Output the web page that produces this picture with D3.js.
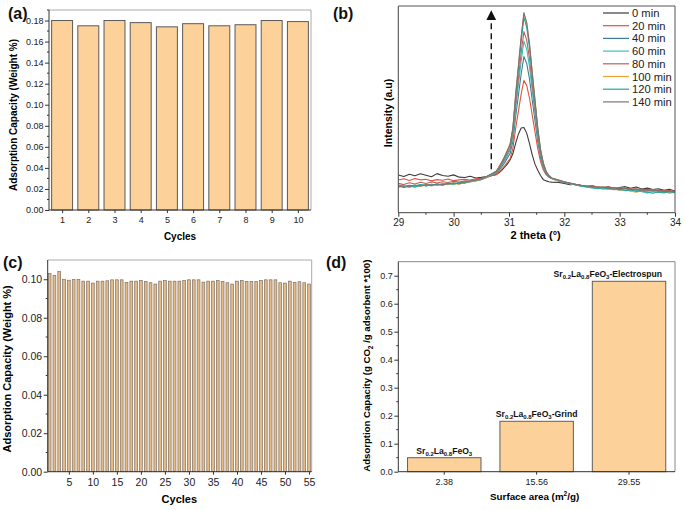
<!DOCTYPE html>
<html><head><meta charset="utf-8">
<script src="https://cdn.jsdelivr.net/npm/d3@7"></script>
<style>
body{margin:0;background:#fff;}
svg{display:block;font-family:"Liberation Sans",Arial,sans-serif;}
</style></head><body>
<svg id="chart" width="685" height="510"></svg>
<script>
// ---------- DATA ----------
// (a)
const cyclesA = [1,2,3,4,5,6,7,8,9,10];
const capacityA = [0.180,0.175,0.180,0.178,0.174,0.177,0.175,0.176,0.180,0.179];
const yTicksA = [0,0.02,0.04,0.06,0.08,0.10,0.12,0.14,0.16,0.18];

// (b)
const thetaB = [29.0,29.1,29.2,29.3,29.4,29.5,29.6,29.7,29.8,29.9,30.0,30.1,30.2,30.3,30.4,30.5,30.6,30.7,
  30.77,30.82,30.87,30.92,30.97,31.02,31.07,31.12,31.17,31.22,31.27,31.32,31.37,31.42,31.47,31.52,31.57,31.62,31.67,31.72,31.77,
  31.9,32.0,32.1,32.2,32.3,32.4,32.5,32.6,32.7,32.8,32.9,33.0,33.1,33.2,33.3,33.4,33.5,33.6,33.7,33.8,33.9,34.0];
const seriesNamesB = ["0 min","20 min","40 min","60 min","80 min","100 min","120 min","140 min"];
const int0 = [18.2,17.5,18.6,17.9,18.8,18.1,17.4,18.9,18.0,17.6,18.3,17.2,17.0,17.6,16.8,17.1,17.5,18.0,
  18.5,19.3,20.5,22,23.5,25.5,28.5,33.5,38,41,41.2,38.5,33.5,28,23.5,20.5,18,16,15.4,15,14.8,
  14.6,14.2,13.5,13.8,13.1,12.6,12.9,12.3,12.0,12.5,11.6,12.2,12.6,11.8,12.4,11.5,11.9,11.2,11.6,10.8,11.3,10.5];
const int20 = [15.8,16.4,15.6,16.5,15.9,16.2,15.4,16.0,15.7,16.3,15.5,15.9,16.2,15.8,16.4,16.6,17.2,18.0,
  18.4,19.6,21.1,22.6,24.4,26.2,31.0,40.6,49.0,57.4,64.0,61.6,55.6,47.2,39.1,31.0,24.7,20.8,18.4,17.2,16.5,
  15.2,14.5,14.0,13.6,13.2,12.9,12.4,12.7,12.1,11.8,12.2,11.5,11.9,11.1,11.6,10.9,11.3,10.6,11.0,10.3,10.7,10.0];
const int40 = [13.0,12.4,13.3,12.8,13.6,13.1,13.8,13.4,14.0,13.6,14.3,14.0,14.7,15.0,15.4,16.0,17.0,18.4,
  19.0,20.4,22.3,24.1,26.4,28.6,34.5,46.3,56.7,67.1,75.5,72.2,64.8,54.5,44.5,34.5,26.7,21.9,19.0,17.5,16.6,
  15.4,14.6,14.1,13.5,13.1,12.6,12.9,12.2,11.9,12.1,11.4,11.7,11.0,11.4,10.7,11.0,10.3,10.8,10.1,10.4,9.8,10.1];
const int60 = [12.6,13.3,12.2,13.0,13.5,12.9,13.7,13.2,13.9,14.1,13.7,14.5,14.2,15.1,15.6,16.1,17.2,18.6,
  19.3,21.0,23.1,25.1,27.6,30.1,36.8,50.0,61.7,73.3,83.0,79.1,70.8,59.2,48.0,36.8,28.0,22.6,19.3,17.7,16.7,
  15.5,14.7,14.0,13.4,12.8,12.4,12.0,11.6,12.0,11.2,11.6,10.8,11.1,10.5,10.9,10.2,9.6,10.2,9.8,10.3,9.5,9.9];
const int80 = [14.2,13.6,14.5,13.9,14.7,14.1,14.9,14.4,15.0,14.6,15.2,14.8,15.4,15.3,15.9,16.3,17.4,18.8,
  19.6,21.3,23.6,25.8,28.5,31.1,38.3,52.5,65.0,77.4,87.6,83.6,74.7,62.3,50.3,38.3,28.9,23.1,19.6,17.8,16.7,
  15.6,14.8,14.3,13.7,13.3,12.8,13.1,12.5,12.2,12.6,11.8,12.1,11.4,11.8,11.1,11.5,10.8,11.2,10.5,10.9,10.2,10.4];
const int100 = [12.2,12.9,12.5,13.2,12.7,13.4,12.9,13.6,13.3,13.9,14.2,13.8,14.6,14.9,15.5,16.2,17.3,18.9,
  20.2,22.3,24.4,27.2,30.1,33.2,40.5,56.5,70.6,84.5,96.3,91.8,81.6,67.6,54.3,40.8,30.6,24.2,20.1,18.0,16.6,
  15.5,14.9,14.2,13.6,13.0,12.5,12.1,12.4,11.7,11.3,11.6,10.9,11.2,10.4,9.9,10.6,10.1,10.5,9.8,10.1,9.6,9.8];
const int120 = [13.4,12.7,13.1,12.3,13.4,13.0,13.5,13.8,13.3,14.2,13.9,14.6,14.4,15.2,15.7,16.3,17.6,19.0,
  19.9,21.8,24.2,26.7,29.6,32.5,40.3,55.8,69.4,82.9,94.5,89.7,80.0,66.4,53.3,40.3,30.1,23.8,19.9,17.9,16.8,
  15.7,14.8,14.1,13.5,12.9,12.6,12.2,11.8,11.5,11.9,11.1,11.4,10.7,11.0,10.3,10.6,9.9,9.4,10.0,9.6,10.1,9.7];
const int140 = [13.0,12.2,12.8,13.4,12.9,13.6,13.2,14.0,13.5,14.1,14.4,14.0,15.0,15.3,15.8,16.4,17.5,19.0,
  20,22,24.5,27,30,33,41,57,71,85,96.8,92,82,68,54.5,41,30.5,24,20,18,16.8,
  15.8,15.0,14.4,13.8,13.3,12.9,12.6,12.2,12.5,11.8,12.1,11.4,11.8,11.1,11.5,10.8,11.2,10.5,10.9,10.2,10.6,10.0];
const xTicksB = [29,30,31,32,33,34];
const arrowB = {x:30.68, from:21, to:97};

// (c)
const cyclesC = [1,2,3,4,5,6,7,8,9,10,11,12,13,14,15,16,17,18,19,20,21,22,23,24,25,26,27,28,29,30,
  31,32,33,34,35,36,37,38,39,40,41,42,43,44,45,46,47,48,49,50,51,52,53,54,55];
const capacityC = [0.103,0.102,0.104,0.0998,0.0995,0.0998,0.0998,0.099,0.099,0.098,
  0.099,0.099,0.0992,0.0997,0.0997,0.0997,0.0983,0.099,0.099,0.0993,
  0.0988,0.0982,0.0975,0.099,0.0993,0.099,0.099,0.099,0.0993,0.0997,
  0.0997,0.0997,0.0985,0.099,0.099,0.0993,0.0988,0.0982,0.0975,0.099,
  0.0993,0.0988,0.0988,0.0988,0.0993,0.0997,0.0997,0.0997,0.0982,0.098,
  0.099,0.0983,0.0987,0.0982,0.0975];
const xTicksC = [5,10,15,20,25,30,35,40,45,50,55];
const yTicksC = [0,0.02,0.04,0.06,0.08,0.10];

// (d)
const surfaceD = ["2.38","15.56","29.55"];
const capacityD = [0.05,0.18,0.68];
const suffixD = ["","-Grind","-Electrospun"];
const yTicksD = [0,0.1,0.2,0.3,0.4,0.5,0.6,0.7];

// ---------- DRAW ----------
const svg = d3.select("#chart");
const FONT = '"Liberation Sans",Arial,sans-serif';

function frame(g, w, h, dark, light){
  g.append("line").attr("x1",0).attr("x2",w).attr("y1",0).attr("y2",0).attr("stroke",light).attr("stroke-width",1);
  g.append("line").attr("x1",w).attr("x2",w).attr("y1",0).attr("y2",h).attr("stroke",light).attr("stroke-width",1);
  g.append("line").attr("x1",0).attr("x2",0).attr("y1",0).attr("y2",h).attr("stroke",dark).attr("stroke-width",1);
  g.append("line").attr("x1",0).attr("x2",w).attr("y1",h).attr("y2",h).attr("stroke",dark).attr("stroke-width",1);
}
function styleAxis(ax, fs){
  ax.select(".domain").remove();
  ax.selectAll("line").attr("stroke","#333");
  ax.selectAll("text").attr("font-size",fs).attr("fill","#222").attr("font-family",FONT);
}
function minorTicks(g, scale, vals, orient, len){
  vals.forEach(v=>{
    if(orient==="left") g.append("line").attr("x1",0).attr("x2",-len).attr("y1",scale(v)).attr("y2",scale(v)).attr("stroke","#333");
    else g.append("line").attr("y1",0).attr("y2",len).attr("x1",scale(v)).attr("x2",scale(v)).attr("stroke","#333");
  });
}
function panelLabel(txt, x, y){
  svg.append("text").attr("x",x).attr("y",y).attr("font-size",16).attr("font-weight","bold").attr("fill","#111").text(txt);
}

// ===== (a) =====
{
  const L=49,T=10,W=262,H=200;
  const g = svg.append("g").attr("transform",`translate(${L},${T})`);
  const x = d3.scaleLinear().domain([0.5,10.5]).range([0,W]);
  const y = d3.scaleLinear().domain([0,0.19]).range([H,0]);
  const bw = (x(1.8)-x(1));
  g.selectAll("rect.bar").data(cyclesA).join("rect")
    .attr("x",d=>x(d)-bw/2).attr("width",bw)
    .attr("y",(d,i)=>y(capacityA[i])).attr("height",(d,i)=>H-y(capacityA[i]))
    .attr("fill","#fdd19a").attr("stroke","#5a5a5a").attr("stroke-width",1);
  frame(g,W,H,"#333","#aaa");
  const ay = g.append("g").call(d3.axisLeft(y).tickValues(yTicksA).tickFormat(d3.format(".2f")).tickSize(4).tickPadding(1.5));
  styleAxis(ay,9);
  minorTicks(g,y,yTicksA.map(v=>v+0.01),"left",2);
  const ax = g.append("g").attr("transform",`translate(0,${H})`).call(d3.axisBottom(x).tickValues(cyclesA).tickSize(3).tickPadding(4));
  styleAxis(ax,9);
  g.append("text").attr("x",W/2).attr("y",H+30).attr("text-anchor","middle").attr("font-size",10).attr("font-weight","bold").text("Cycles");
  g.append("text").attr("transform",`translate(${-32},${H/2+5}) rotate(-90)`).attr("text-anchor","middle")
    .attr("font-size",10).attr("font-weight","bold").text("Adsorption Capacity (Weight %)");
  panelLabel("(a)",8,19);
}

// ===== (b) =====
{
  const L=398.3,T=6,W=276.7,H=206.7;
  const g = svg.append("g").attr("transform",`translate(${L},${T})`);
  const x = d3.scaleLinear().domain([29,34]).range([0,W]);
  const y = d3.scaleLinear().domain([0,100]).range([H,0]);
  const colors = ["#3b3b3b","#e0533d","#3e7c90","#3cc0bb","#c0605a","#e8a23c","#1fa8a6","#85706e"];
  const all = [int0,int20,int40,int60,int80,int100,int120,int140];
  svg.append("defs").append("clipPath").attr("id","clipB").append("rect").attr("width",W).attr("height",H);
  const line = d3.line().x(d=>x(d[0])).y(d=>y(d[1]));
  const pg = g.append("g").attr("clip-path","url(#clipB)");
  all.forEach((s,i)=>{
    pg.append("path").datum(thetaB.map((t,j)=>[t,s[j]]))
      .attr("d",line).attr("fill","none").attr("stroke",colors[i]).attr("stroke-width",1.1)
      .attr("stroke-linejoin","round");
  });
  // arrow
  const defs = svg.select("defs");
  defs.append("marker").attr("id","arrowHead").attr("viewBox","0 0 10 10").attr("refX",8).attr("refY",5)
    .attr("markerWidth",7).attr("markerHeight",7).attr("orient","auto")
    .append("path").attr("d","M0,0 L10,5 L0,10 z").attr("fill","#111");
  g.append("line").attr("x1",x(arrowB.x)).attr("x2",x(arrowB.x)).attr("y1",y(arrowB.from)).attr("y2",y(arrowB.to))
    .attr("stroke","#111").attr("stroke-width",1.4).attr("stroke-dasharray","6,4").attr("marker-end","url(#arrowHead)");
  frame(g,W,H,"#444","#555");
  const ax = g.append("g").attr("transform",`translate(0,${H})`).call(d3.axisBottom(x).tickValues(xTicksB).tickFormat(d3.format("d")).tickSize(4).tickPadding(2));
  styleAxis(ax,10);
  minorTicks(g.append("g").attr("transform",`translate(0,${H})`),x,[29.5,30.5,31.5,32.5,33.5],"bottom",2);
  g.append("text").attr("x",x(31.5)-1).attr("y",H+26).attr("text-anchor","middle").attr("font-size",11).attr("font-weight","bold").text("2 theta (°)");
  g.append("text").attr("transform",`translate(${-6},${107}) rotate(-90)`).attr("text-anchor","middle")
    .attr("font-size",10.5).attr("font-weight","bold").text("Intensity (a.u)");
  // legend
  const lg = svg.append("g").attr("transform","translate(603,13)");
  seriesNamesB.forEach((n,i)=>{
    const r = lg.append("g").attr("transform",`translate(0,${i*12.7})`);
    r.append("line").attr("x1",0).attr("x2",26).attr("y1",0).attr("y2",0).attr("stroke",colors[i]).attr("stroke-width",1.2);
    r.append("text").attr("x",29).attr("y",4).attr("font-size",11.2).attr("fill","#222").text(n);
  });
  panelLabel("(b)",333,19);
}

// ===== (c) =====
{
  const L=47.7,T=260,W=264,H=211.7;
  const g = svg.append("g").attr("transform",`translate(${L},${T})`);
  const x = d3.scaleLinear().domain([0.6,55.55]).range([0,W]);
  const y = d3.scaleLinear().domain([0,0.11]).range([H,0]);
  const bw = x(1.58)-x(1);
  g.selectAll("rect.bar").data(cyclesC).join("rect")
    .attr("x",d=>x(d)-bw/2).attr("width",bw)
    .attr("y",(d,i)=>y(capacityC[i])).attr("height",(d,i)=>H-y(capacityC[i]))
    .attr("fill","#e6bb86").attr("stroke","#7d7066").attr("stroke-width",0.7);
  frame(g,W,H,"#333","#aaa");
  const ay = g.append("g").call(d3.axisLeft(y).tickValues(yTicksC).tickFormat(d3.format(".2f")).tickSize(4).tickPadding(1.5));
  styleAxis(ay,10.5);
  minorTicks(g,y,[0.01,0.03,0.05,0.07,0.09],"left",2);
  const ax = g.append("g").attr("transform",`translate(0,${H})`).call(d3.axisBottom(x).tickValues(xTicksC).tickSize(3).tickPadding(4));
  styleAxis(ax,10.5);
  g.append("text").attr("x",x(28)).attr("y",H+31).attr("text-anchor","middle").attr("font-size",11).attr("font-weight","bold").text("Cycles");
  g.append("text").attr("transform",`translate(${-37},${H/2+3}) rotate(-90)`).attr("text-anchor","middle")
    .attr("font-size",11).attr("font-weight","bold").text("Adsorption Capacity (Weight %)");
  panelLabel("(c)",3,268);
}

// ===== (d) =====
{
  const L=398.3,T=261.7,W=276.7,H=210;
  const g = svg.append("g").attr("transform",`translate(${L},${T})`);
  const x = d3.scaleBand().domain(surfaceD).range([0,W]).paddingInner(0.205).paddingOuter(0.1);
  const y = d3.scaleLinear().domain([0,0.75]).range([H,0]);
  g.selectAll("rect.bar").data(surfaceD).join("rect")
    .attr("x",d=>x(d)).attr("width",x.bandwidth())
    .attr("y",(d,i)=>y(capacityD[i])).attr("height",(d,i)=>H-y(capacityD[i]))
    .attr("fill","#fdd19a").attr("stroke","#5f5f5f").attr("stroke-width",1);
  frame(g,W,H,"#333","#888");
  const ay = g.append("g").call(d3.axisLeft(y).tickValues(yTicksD).tickFormat(d3.format(".1f")).tickSize(4).tickPadding(1.5));
  styleAxis(ay,9);
  minorTicks(g,y,[0.05,0.15,0.25,0.35,0.45,0.55,0.65],"left",2);
  const ax = g.append("g").attr("transform",`translate(0,${H})`).call(d3.axisBottom(x).tickSize(3).tickPadding(4));
  styleAxis(ax,9);
  // bar labels
  surfaceD.forEach((d,i)=>{
    const cx = x(d)+x.bandwidth()/2;
    const t = g.append("text").attr("font-size",8.6).attr("font-weight","bold").attr("fill","#111")
      .attr("y",y(capacityD[i])-4);
    t.append("tspan").text("Sr");
    t.append("tspan").attr("font-size",6).attr("dy",2).text("0.2");
    t.append("tspan").attr("dy",-2).text("La");
    t.append("tspan").attr("font-size",6).attr("dy",2).text("0.8");
    t.append("tspan").attr("dy",-2).text("FeO");
    t.append("tspan").attr("font-size",6).attr("dy",2).text("3");
    t.append("tspan").attr("dy",-2).text(suffixD[i]);
    const tw = t.node().getComputedTextLength();
    let tx = cx - tw/2;
    if (tx + tw > W - 13) tx = W - 13 - tw;
    t.attr("x",tx);
  });
  // x label
  const xl = g.append("text").attr("x",W/2-2).attr("y",H+28).attr("text-anchor","middle").attr("font-size",9.8).attr("font-weight","bold");
  xl.append("tspan").text("Surface area (m");
  xl.append("tspan").attr("font-size",6.5).attr("dy",-4).text("2");
  xl.append("tspan").attr("dy",4).text("/g)");
  const yl = g.append("text").attr("transform",`translate(${-28},${H/2-1}) rotate(-90)`).attr("text-anchor","middle")
    .attr("font-size",9.6).attr("font-weight","bold");
  yl.append("tspan").text("Adsorption Capacity (g CO");
  yl.append("tspan").attr("font-size",6.5).attr("dy",2.5).text("2");
  yl.append("tspan").attr("dy",-2.5).text(" /g adsorbent *100)");
  panelLabel("(d)",326,268);
}
</script>
</body></html>
